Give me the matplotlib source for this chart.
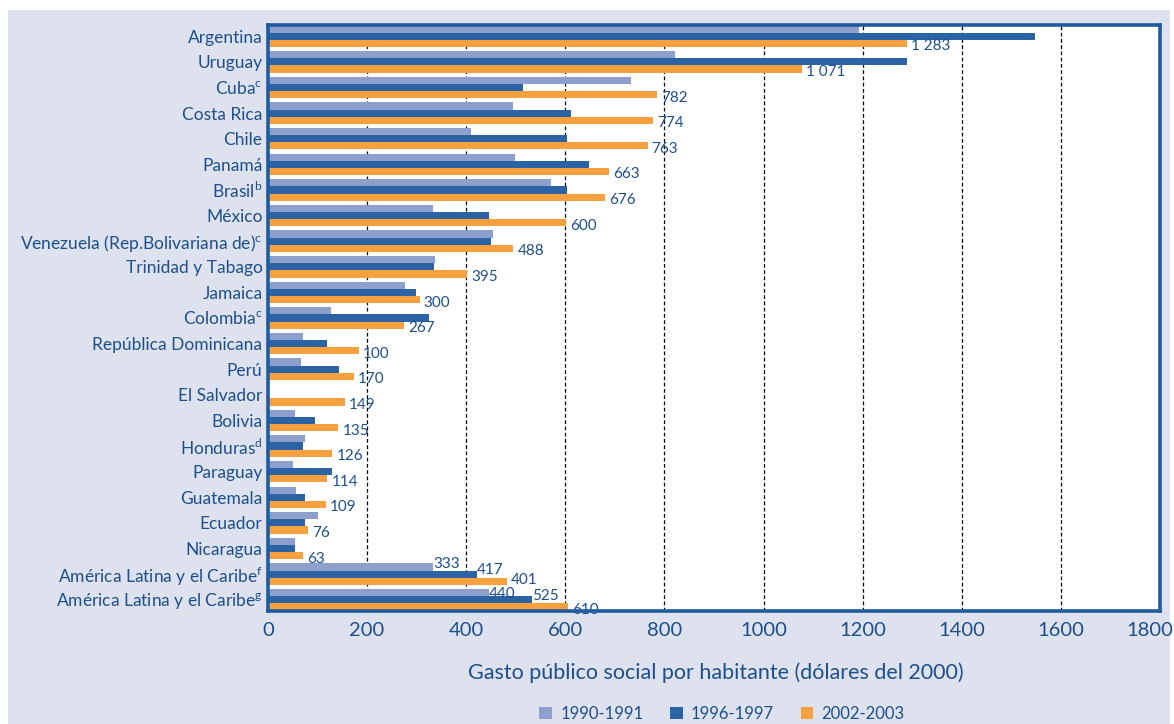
import matplotlib
matplotlib.use('Agg')
import matplotlib.pyplot as plt
from matplotlib.patches import Rectangle, Patch
from matplotlib.transforms import ScaledTranslation
import numpy as np

categories = [
    'Argentina', 'Uruguay', r'Cuba$^{\mathrm{c}}$', 'Costa Rica', 'Chile', 'Panamá',
    r'Brasil$^{\mathrm{b}}$', 'México', r'Venezuela (Rep.Bolivariana de)$^{\mathrm{c}}$',
    'Trinidad y Tabago', 'Jamaica', r'Colombia$^{\mathrm{c}}$', 'República Dominicana',
    'Perú', 'El Salvador', 'Bolivia', r'Honduras$^{\mathrm{d}}$', 'Paraguay',
    'Guatemala', 'Ecuador', 'Nicaragua', r'América Latina y el Caribe$^{\mathrm{f}}$',
    r'América Latina y el Caribe$^{\mathrm{g}}$']

v1990 = [1193, 822, 732, 494, 409, 498, 571, 333, 454, 338, 276, 128, 70, 66,
         0, 54, 74, 50, 56, 101, 54, 333, 446]
v1996 = [1548, 1289, 514, 611, 603, 648, 603, 446, 450, 335, 298, 325, 120, 143,
         0, 95, 70, 130, 74, 74, 54, 421, 532]
v2002 = [1289, 1077, 785, 777, 766, 688, 680, 601, 495, 402, 306, 275, 184, 174,
         155, 142, 130, 120, 117, 81, 70, 482, 606]

labels2002 = ['1 283', '1 071', '782', '774', '763', '663', '676', '600', '488',
              '395', '300', '267', '100', '170', '149', '135', '126', '114',
              '109', '76', '63', '401', '610']
labels1990 = {21: '333', 22: '440'}
labels1996 = {21: '417', 22: '525'}

series_names = ['1990-1991', '1996-1997', '2002-2003']
xticks = [0, 200, 400, 600, 800, 1000, 1200, 1400, 1600, 1800]

c_light = '#8c9fcd'
c_dark = '#2b63a5'
c_orange = '#f6a03f'
c_text = '#1d4f8c'
c_frame = '#1f5c9e'
c_bg = '#dde2ee'

font = ['Lato', 'DejaVu Sans']
plt.rcParams['mathtext.fontset'] = 'custom'
plt.rcParams['mathtext.rm'] = 'Lato'

W, H = 1174, 724
fig = plt.figure(figsize=(W / 100, H / 100), dpi=100)
fig.patch.set_facecolor('white')
fig.add_artist(Rectangle((8 / W, 0), (1170 - 8) / W, (H - 10) / H,
                         transform=fig.transFigure, facecolor=c_bg,
                         edgecolor='none', zorder=0))

ax = fig.add_axes([268 / W, 1 - 611 / H, 892 / W, 586 / H])
ax.set_facecolor('white')

n = len(categories)
y = np.arange(n)
bh = 0.28
ax.barh(y - bh, v1990, height=bh, color=c_light, zorder=2)
ax.barh(y, v1996, height=bh, color=c_dark, zorder=2)
ax.barh(y + bh, v2002, height=bh, color=c_orange, zorder=2)

ax.set_xlim(0, 1800)
ax.set_ylim(n - 1 + 0.44, -0.44)
ax.set_xticks(xticks)
ax.set_xticklabels([str(t) for t in xticks], family=font, fontsize=14.5,
                   color=c_text)
ax.set_yticks(y)
ax.set_yticklabels(categories, family=font, fontsize=12.5, color=c_text)
ax.tick_params(axis='both', length=0)
ax.tick_params(axis='x', pad=8)
ax.tick_params(axis='y', pad=4)
last = ax.get_xticklabels()[-1]
last.set_transform(last.get_transform() + ScaledTranslation(-10 / 100, 0, fig.dpi_scale_trans))

ax.set_axisbelow(True)
ax.xaxis.grid(True, linestyle=(0, (3, 2)), color='black', linewidth=0.9,
              zorder=1)
ax.yaxis.grid(False)
for s in ax.spines.values():
    s.set_color(c_frame)
    s.set_linewidth(2.6)
    s.set_zorder(5)

px = 72 / 100  # points per pixel
for i in range(n):
    dy = 1 if i == n - 2 else -3
    ax.annotate(labels2002[i], (v2002[i], y[i] + bh), xytext=(4 * px, dy * px),
                textcoords='offset points', ha='left', va='center',
                family=font, fontsize=11, color=c_text, zorder=4)
for i, t in labels1990.items():
    dy = 3 if i == n - 2 else -1
    ax.annotate(t, (v1990[i], y[i] - bh), xytext=(0, dy * px),
                textcoords='offset points', ha='left', va='center',
                family=font, fontsize=11, color=c_text, zorder=4)
for i, t in labels1996.items():
    ax.annotate(t, (v1996[i], y[i]), xytext=(0, 4 * px),
                textcoords='offset points', ha='left', va='center',
                family=font, fontsize=11, color=c_text, zorder=4)

fig.text(716 / W, 1 - 673 / H,
         'Gasto público social por habitante (dólares del 2000)',
         ha='center', va='center', fontsize=15.5, color=c_text, family=font)

handles = [Patch(facecolor=c, edgecolor='none') for c in (c_light, c_dark, c_orange)]
fig.legend(handles, series_names, loc='center', bbox_to_anchor=(722 / W, 1 - 714 / H),
           ncol=3, frameon=False, handlelength=0.75, handleheight=0.75,
           handletextpad=0.5, columnspacing=1.6,
           prop={'family': font, 'size': 12}, labelcolor=c_text)

fig.savefig('out.png', dpi=100, facecolor=fig.get_facecolor())
